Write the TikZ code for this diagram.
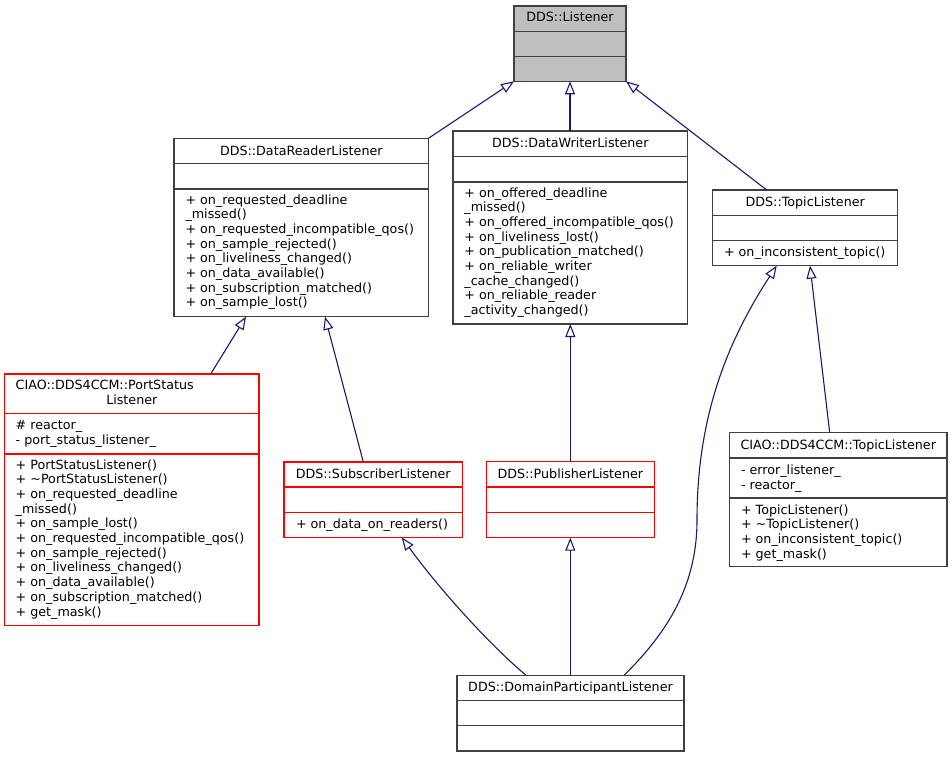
\documentclass[tikz,border=0pt]{standalone}
\usepackage{fontspec}
\setmainfont{DejaVu Sans}
\usetikzlibrary{arrows.meta,calc}
\definecolor{edgeblue}{HTML}{191970}
\definecolor{boxgray}{HTML}{404040}
\definecolor{fillgray}{HTML}{BFBFBF}
\tikzset{
  umlbox/.style={draw=boxgray, line width=1.3pt, fill=white, anchor=north west, inner sep=0pt, outer sep=0pt},
  redbox/.style={umlbox, draw=red},
  titletext/.style={anchor=base, inner sep=0pt, outer sep=0pt, font=\fontsize{12.7}{15}\selectfont},
  membertext/.style={anchor=base west, inner sep=0pt, outer sep=0pt, font=\fontsize{12.7}{15}\selectfont},
  sepline/.style={draw=boxgray, line width=1.3pt},
  redsep/.style={draw=red, line width=1.3pt},
  inherit/.style={draw=edgeblue, line width=1.1pt, -{Triangle[open, length=13pt, width=10pt]}},
}
\newcommand{\memberlines}[4]{%
  \foreach \t [count=\i] in {#4} {
    \node[membertext] (#1-\i) at (#2, {#3+(\i-1)*14.67}) {\t};
  }%
}
\begin{document}
\begin{tikzpicture}[x=1pt, y=-1pt]
\useasboundingbox (0,0) rectangle (952,757);

% DDS::Listener
\node[umlbox, fill=fillgray, minimum width=112pt, minimum height=75.3pt] (lst) at (514,6) {};
\draw[sepline] (514,31.3) -- (626,31.3);
\draw[sepline] (514,56.3) -- (626,56.3);
\node[titletext] (lst-t) at (570,21.3) {DDS::Listener};

% DDS::DataReaderListener
\node[umlbox, minimum width=254.5pt, minimum height=178.4pt] (drl) at (174,138.3) {};
\draw[sepline] (174,163.3) -- (428.5,163.3);
\draw[sepline] (174,189) -- (428.5,189);
\node[titletext] (drl-t) at (301.3,155.3) {DDS::DataReaderListener};
\memberlines{drl}{185.5}{204.3}{+ on\_requested\_deadline,\_missed(),+ on\_requested\_incompatible\_qos(),+ on\_sample\_rejected(),+ on\_liveliness\_changed(),+ on\_data\_available(),+ on\_subscription\_matched(),+ on\_sample\_lost()}

% DDS::DataWriterListener
\node[umlbox, minimum width=234.6pt, minimum height=193pt] (dwl) at (453,131) {};
\draw[sepline] (453,156.3) -- (687.6,156.3);
\draw[sepline] (453,182) -- (687.6,182);
\node[titletext] (dwl-t) at (570.3,147.7) {DDS::DataWriterListener};
\memberlines{dwl}{464.4}{197.3}{+ on\_offered\_deadline,\_missed(),+ on\_offered\_incompatible\_qos(),+ on\_liveliness\_lost(),+ on\_publication\_matched(),+ on\_reliable\_writer,\_cache\_changed(),+ on\_reliable\_reader,\_activity\_changed()}

% DDS::TopicListener
\node[umlbox, minimum width=185pt, minimum height=75.7pt] (tl) at (712.7,190) {};
\draw[sepline] (712.7,215.3) -- (897.7,215.3);
\draw[sepline] (712.7,240.7) -- (897.7,240.7);
\node[titletext] (tl-t) at (805.2,206.5) {DDS::TopicListener};
\node[membertext] (tl-1) at (724,256.7) {+ on\_inconsistent\_topic()};

% CIAO::DDS4CCM::PortStatusListener
\node[redbox, minimum width=254.3pt, minimum height=251.7pt] (psl) at (4.7,374) {};
\draw[redsep] (4.7,413.3) -- (259,413.3);
\draw[redsep] (4.7,454) -- (259,454);
\node[membertext] (psl-t1) at (15.7,389.3) {CIAO::DDS4CCM::PortStatus};
\node[titletext] (psl-t2) at (131.8,404.3) {Listener};
\node[membertext] (psl-a1) at (15.7,429.3) {\# reactor\_};
\node[membertext] (psl-a2) at (15.7,444) {- port\_status\_listener\_};
\memberlines{psl}{15.7}{469.3}{+ PortStatusListener(),+ \textasciitilde PortStatusListener(),+ on\_requested\_deadline,\_missed(),+ on\_sample\_lost(),+ on\_requested\_incompatible\_qos(),+ on\_sample\_rejected(),+ on\_liveliness\_changed(),+ on\_data\_available(),+ on\_subscription\_matched(),+ get\_mask()}

% DDS::SubscriberListener
\node[redbox, minimum width=178.3pt, minimum height=75.3pt] (sl) at (284,462) {};
\draw[redsep] (284,487) -- (462.3,487);
\draw[redsep] (284,512.7) -- (462.3,512.7);
\node[titletext] (sl-t) at (373.2,478.3) {DDS::SubscriberListener};
\node[membertext] (sl-1) at (296,528.3) {+ on\_data\_on\_readers()};

% DDS::PublisherListener
\node[redbox, minimum width=168pt, minimum height=76pt] (pl) at (486.3,461.7) {};
\draw[redsep] (486.3,487) -- (654.3,487);
\draw[redsep] (486.3,512.3) -- (654.3,512.3);
\node[titletext] (pl-t) at (570.3,478.3) {DDS::PublisherListener};

% CIAO::DDS4CCM::TopicListener
\node[umlbox, minimum width=217.3pt, minimum height=134pt] (ctl) at (729.7,432.7) {};
\draw[sepline] (729.7,458) -- (947,458);
\draw[sepline] (729.7,498) -- (947,498);
\node[titletext] (ctl-t) at (838.3,449.3) {CIAO::DDS4CCM::TopicListener};
\node[membertext] (ctl-a1) at (741,474) {- error\_listener\_};
\node[membertext] (ctl-a2) at (741,489) {- reactor\_};
\memberlines{ctl}{741}{514}{+ TopicListener(),+ \textasciitilde TopicListener(),+ on\_inconsistent\_topic(),+ get\_mask()}

% DDS::DomainParticipantListener
\node[umlbox, minimum width=227pt, minimum height=75.7pt] (dpl) at (457,675.3) {};
\draw[sepline] (457,700.7) -- (684,700.7);
\draw[sepline] (457,725.7) -- (684,725.7);
\node[titletext] (dpl-t) at (570.5,691.3) {DDS::DomainParticipantListener};

% inheritance connectors
\draw[inherit] (drl.north east) -- (lst.south west);
\draw[inherit] (dwl.north -| lst.south) -- (lst.south);
\draw[inherit] ($(tl.north west)+(54,0)$) -- (lst.south east);
\draw[inherit] ($(psl.north west)+(206,0)$) -- ($(drl.south west)+(72,0)$);
\draw[inherit] ($(sl.north west)+(79.3,0)$) -- ($(drl.south west)+(151,0)$);
\draw[inherit] (pl.north) -- (pl.north |- dwl.south);
\draw[inherit] ($(ctl.north west)+(100,0)$) -- ($(tl.south west)+(97.3,0)$);
\draw[inherit] ($(dpl.north west)+(167,0)$) .. controls (668,632) and (697,585) .. (697,520) .. controls (697,420) and (725,345) .. ($(tl.south west)+(64,0)$);
\draw[inherit] ($(dpl.north west)+(69,0)$) .. controls (490,645) and (440,590) .. ($(sl.south west)+(117.7,0)$);
\draw[inherit] (dpl.north -| pl.south) -- (pl.south);
\end{tikzpicture}
\end{document}
